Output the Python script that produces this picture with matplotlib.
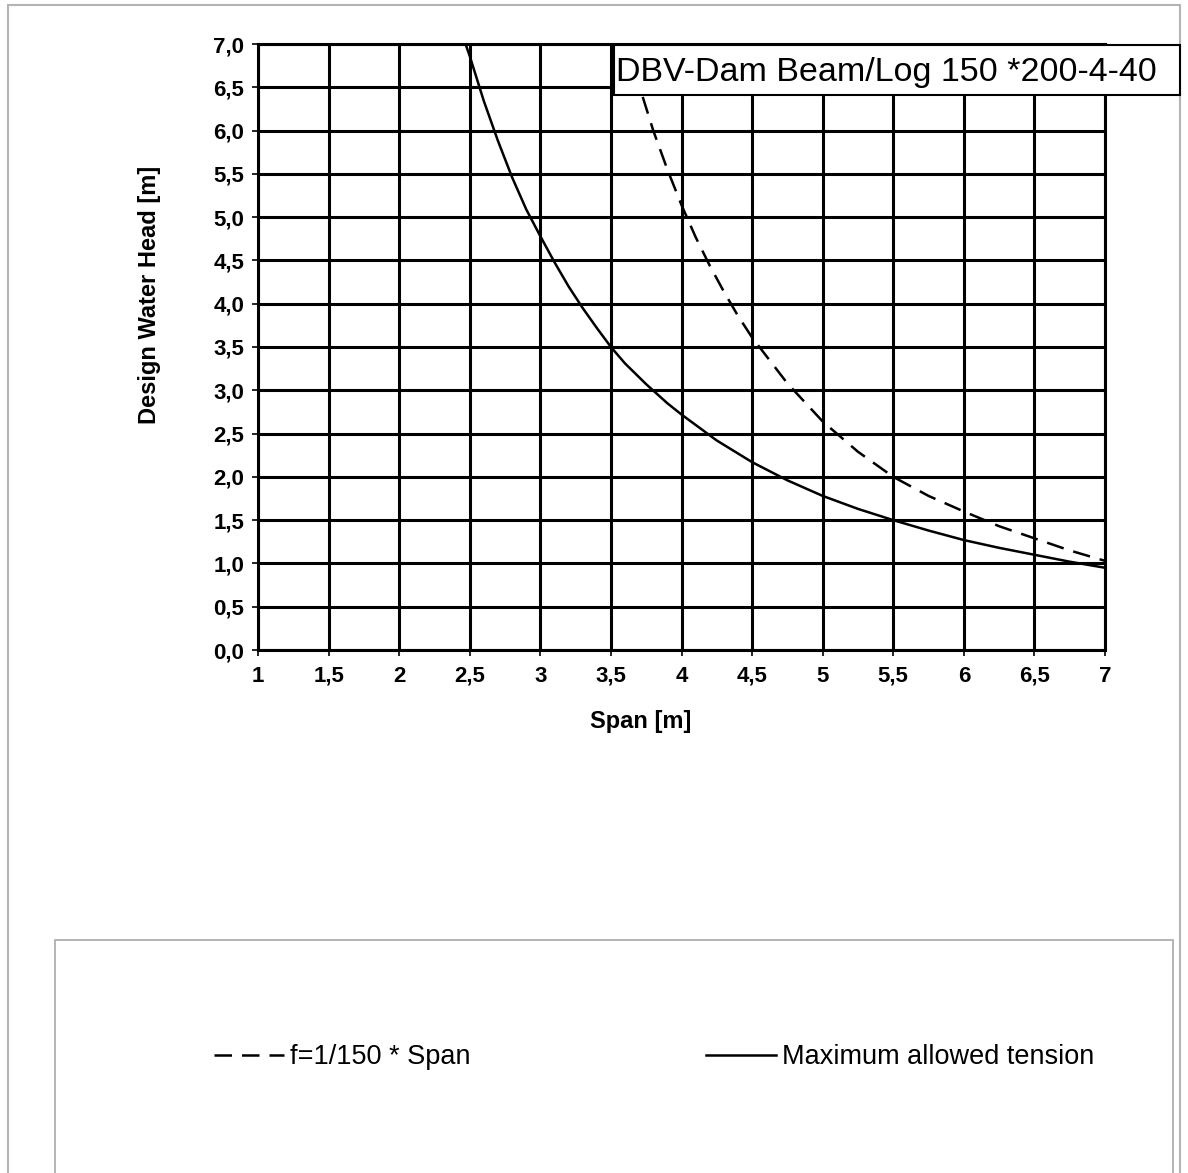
import numpy as np
import matplotlib.pyplot as plt
from matplotlib.patches import Rectangle
from matplotlib.ticker import FuncFormatter

# Values
span_tension = [2.47, 2.5, 2.6, 2.7, 2.8, 2.9, 3.0, 3.1, 3.2, 3.3, 3.4, 3.5,
                3.6, 3.75, 3.9, 4.0, 4.25, 4.5, 4.75, 5.0, 5.25, 5.5, 5.75,
                6.0, 6.25, 6.5, 6.75, 7.0]
head_tension = [7.0, 6.86, 6.34, 5.88, 5.46, 5.09, 4.78, 4.48, 4.20, 3.95,
                3.72, 3.50, 3.31, 3.07, 2.85, 2.72, 2.42, 2.17, 1.96, 1.78,
                1.63, 1.50, 1.38, 1.27, 1.18, 1.10, 1.02, 0.95]

span_defl = [3.62, 3.7, 3.8, 3.9, 4.0, 4.1, 4.2, 4.3, 4.4, 4.5, 4.75, 5.0,
             5.25, 5.5, 5.75, 6.0, 6.25, 6.5, 6.75, 7.0]
head_defl = [7.0, 6.52, 6.00, 5.55, 5.14, 4.77, 4.44, 4.14, 3.86, 3.61, 3.08,
             2.64, 2.29, 2.00, 1.78, 1.60, 1.43, 1.29, 1.15, 1.03]

x_ticks = np.arange(1, 7.01, 0.5)
y_ticks = np.arange(0, 7.01, 0.5)

title = "DBV-Dam Beam/Log 150 *200-4-40"
label_defl = "f=1/150 * Span"
label_tension = "Maximum allowed tension"

plt.rcParams['font.family'] = ['Liberation Sans', 'DejaVu Sans']

W, H = 1188, 1173
fig = plt.figure(figsize=(W / 100, H / 100), dpi=100)


def fx(px):
    return px / W


def fy(py):
    return 1 - py / H


# outer frame and legend frame
fig.patches.append(Rectangle((fx(8), fy(1180)), fx(1180) - fx(8), fy(5) - fy(1180),
                             transform=fig.transFigure, fill=False,
                             edgecolor='#b4b4b4', linewidth=1.5))
fig.patches.append(Rectangle((fx(55), fy(1180)), fx(1173) - fx(55), fy(940) - fy(1180),
                             transform=fig.transFigure, fill=False,
                             edgecolor='#a8a8a8', linewidth=1.2))

ax = fig.add_axes([fx(258), fy(650), fx(1105) - fx(258), fy(44) - fy(650)])
ax.set_xlim(1, 7)
ax.set_ylim(0, 7)
ax.set_xticks(x_ticks)
ax.set_yticks(y_ticks)
ax.xaxis.set_major_formatter(FuncFormatter(lambda v, p: ('%g' % v).replace('.', ',')))
ax.yaxis.set_major_formatter(FuncFormatter(lambda v, p: ('%.1f' % v).replace('.', ',')))
ax.grid(True, color='black', linewidth=2.2)
ax.set_axisbelow(True)
for s in ax.spines.values():
    s.set_linewidth(2.2)
ax.tick_params(length=4, width=1.2, labelsize=16)
ax.tick_params(axis='y', pad=6)
ax.tick_params(axis='x', pad=19)
for t in ax.get_xticklabels():
    t.set_fontweight('bold')
    t.set_verticalalignment('baseline')
for t in ax.get_yticklabels():
    t.set_fontweight('bold')

ax.plot(span_defl, head_defl, color='black', linewidth=1.8, linestyle=(0, (7, 4)),
        label=label_defl)
ax.plot(span_tension, head_tension, color='black', linewidth=1.8,
        label=label_tension)

ax.set_xlabel('Span [m]', fontsize=17, fontweight='bold')
ax.xaxis.set_label_coords(0.452, -0.099)
ax.set_ylabel('Design Water Head [m]', fontsize=17, fontweight='bold')
ax.yaxis.set_label_coords(-0.115, 0.586)

# title box
fig.patches.append(Rectangle((fx(614), fy(95)), fx(1180) - fx(614), fy(45) - fy(95),
                             transform=fig.transFigure, facecolor='white',
                             edgecolor='black', linewidth=1.5, zorder=5))
fig.text(fx(616), fy(72), title, fontsize=24.5, va='center', ha='left', zorder=6)

leg = fig.legend(loc='center', bbox_to_anchor=(fx(654), fy(1057)), ncol=2,
                 frameon=False, fontsize=19.5, handlelength=2.6, handletextpad=0.2,
                 columnspacing=8.7)

fig.savefig('out.png', dpi=100)
